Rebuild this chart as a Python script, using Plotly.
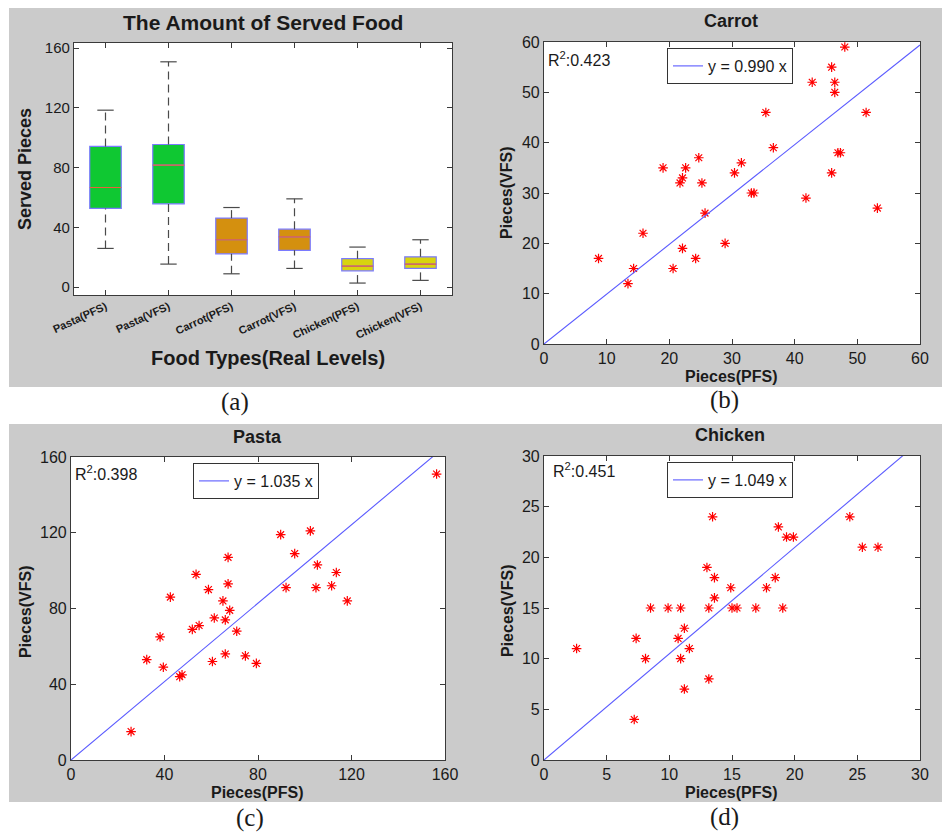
import plotly.graph_objects as go

W, H = 942, 839

# ---------------- data ----------------
box_labels = ["Pasta(PFS)", "Pasta(VFS)", "Carrot(PFS)", "Carrot(VFS)", "Chicken(PFS)", "Chicken(VFS)"]
box_lower = [25.9, 15.4, 8.9, 12.5, 2.7, 4.5]
box_q1 = [52.7, 55.8, 22.3, 24.6, 10.9, 12.5]
box_median = [66.7, 81.7, 31.7, 33.7, 14.1, 15.4]
box_q3 = [94.2, 95.5, 46.2, 38.8, 19.0, 20.3]
box_upper = [118.5, 150.9, 53.3, 59.1, 26.8, 31.7]
box_fill = ["#0fc832", "#0fc832", "#d4900f", "#d4900f", "#d8d40e", "#d8d40e"]

carrot_pfs = [8.7, 13.4, 14.3, 15.8, 19.0, 20.6, 21.7, 22.1, 22.1, 22.6, 24.2, 24.7, 25.2, 25.7, 28.9, 30.4,
              31.5, 33.1, 33.5, 35.4, 36.6, 41.8, 42.8, 45.9, 45.9, 46.4, 46.4, 46.9, 47.3, 48.0, 51.4, 53.2]
carrot_vfs = [17, 12, 15, 22, 35, 15, 32, 33, 19, 35, 17, 37, 32, 26, 20, 34,
              36, 30, 30, 46, 39, 29, 52, 55, 34, 52, 50, 38, 38, 59, 46, 27]

pasta_pfs = [25.7, 32.4, 38.1, 39.5, 42.5, 46.5, 47.5, 51.9, 53.5, 54.8, 58.8, 60.5, 61.3, 65.0, 66.0, 66.0, 67.2,
             67.2, 67.9, 70.9, 74.6, 79.3, 89.7, 92.0, 95.7, 102.4, 104.8, 105.4, 111.5, 113.5, 118.2, 156.4]
pasta_vfs = [15, 53, 65, 49, 86, 44, 45, 69, 98, 71, 90, 52, 75, 84, 74, 56, 93,
             107, 79, 68, 55, 51, 119, 91, 109, 121, 91, 103, 92, 99, 84, 151]

chicken_pfs = [2.6, 7.2, 7.35, 8.1, 8.5, 9.9, 10.7, 10.9, 10.9, 11.2, 11.2, 11.6, 13.0, 13.15, 13.15, 13.45,
               13.6, 13.6, 14.9, 15.0, 15.4, 16.9, 17.75, 18.45, 18.7, 19.05, 19.35, 19.9, 24.4, 25.4, 26.65]
chicken_vfs = [11, 4, 12, 10, 15, 15, 12, 15, 10, 7, 13, 11, 19, 15, 8, 24,
               18, 16, 17, 15, 15, 15, 17, 18, 23, 15, 22, 22, 24, 21, 21]

scatter_titles = ["Carrot", "Pasta", "Chicken"]
scatter_slopes = [0.990, 1.035, 1.049]
scatter_r2 = ["0.423", "0.398", "0.451"]
scatter_max = [60, 160, 30]
scatter_ticks = [[0, 10, 20, 30, 40, 50, 60], [0, 40, 80, 120, 160], [0, 5, 10, 15, 20, 25, 30]]
box_yticks = [0, 40, 80, 120, 160]

# ---------------- helpers ----------------
def px(x):
    return x / W

def py(y):
    return 1 - y / H

FONT = "Liberation Sans, Arial, sans-serif"
SERIF = "Liberation Serif, Times New Roman, serif"
AXCOL = "#3a3a3a"
TXT = "#1a1a1a"

fig = go.Figure()

# ---------------- panel (a): box plot ----------------
positions = list(range(1, len(box_labels) + 1))
BOXW = 0.5
CAPW = 0.26
wx, wy, cx, cy, mx, my = [], [], [], [], [], []
for p, lo, q1, md, q3, hi in zip(positions, box_lower, box_q1, box_median, box_q3, box_upper):
    wx += [p, p, None, p, p, None]
    wy += [q3, hi, None, lo, q1, None]
    cx += [p - CAPW / 2, p + CAPW / 2, None, p - CAPW / 2, p + CAPW / 2, None]
    cy += [hi, hi, None, lo, lo, None]
    mx += [p - BOXW / 2, p + BOXW / 2, None]
    my += [md, md, None]

fig.add_trace(go.Scatter(x=wx, y=wy, mode="lines", line=dict(color="#4a4a4a", width=1.2, dash="8px,5px"),
                         showlegend=False, hoverinfo="skip", xaxis="x", yaxis="y"))
fig.add_trace(go.Scatter(x=cx, y=cy, mode="lines", line=dict(color="#4a4a4a", width=1.2),
                         showlegend=False, hoverinfo="skip", xaxis="x", yaxis="y"))
for i, p in enumerate(positions):
    fig.add_trace(go.Box(
        x=[p], q1=[box_q1[i]], median=[box_median[i]], q3=[box_q3[i]],
        lowerfence=[box_q1[i]], upperfence=[box_q3[i]],
        width=BOXW, fillcolor=box_fill[i], line=dict(color="#7a7aff", width=1.2),
        boxpoints=False, whiskerwidth=0, showlegend=False, name=box_labels[i],
        xaxis="x", yaxis="y"))
fig.add_trace(go.Scatter(x=mx, y=my, mode="lines", line=dict(color="#e8603a", width=1.2),
                         showlegend=False, hoverinfo="skip", xaxis="x", yaxis="y"))

# ---------------- scatter panels ----------------
scatter_data = [(carrot_pfs, carrot_vfs), (pasta_pfs, pasta_vfs), (chicken_pfs, chicken_vfs)]
axis_ids = [("x2", "y2"), ("x3", "y3"), ("x4", "y4")]
legend_ids = ["legend", "legend2", "legend3"]
for k in range(3):
    xs, ys = scatter_data[k]
    xa, ya = axis_ids[k]
    m = scatter_max[k]
    s = scatter_slopes[k]
    fig.add_trace(go.Scatter(x=xs, y=ys, mode="markers",
                             marker=dict(symbol="asterisk-open", size=8, color="red",
                                         line=dict(color="red", width=1.2)),
                             showlegend=False, xaxis=xa, yaxis=ya))
    fig.add_trace(go.Scatter(x=[0, m], y=[0, s * m], mode="lines",
                             line=dict(color="#5a5aff", width=1.1),
                             name="y = %.3f x" % s, showlegend=True, legend=legend_ids[k],
                             xaxis=xa, yaxis=ya))

# ---------------- axes ----------------
def axis_common(**kw):
    d = dict(showline=True, linecolor=AXCOL, linewidth=1.2, mirror="ticks", ticks="inside",
             ticklen=5, tickcolor=AXCOL, showgrid=False, zeroline=False, automargin=False,
             tickfont=dict(family=FONT, size=16, color=TXT))
    d.update(kw)
    return d

# domains (pixel boxes: left, right, top, bottom)
boxes = {
    "a": (74, 452, 43, 295),
    "b": (544, 920, 42, 344),
    "c": (71, 445, 457, 760),
    "d": (544, 920, 456, 760),
}

def dom(key):
    l, r, t, b = boxes[key]
    return [px(l), px(r)], [py(b), py(t)]

xd, yd = dom("a")
fig.update_layout(
    xaxis=axis_common(domain=xd, anchor="y", range=[0.5, 6.5], tickmode="array", tickvals=positions,
                      ticktext=box_labels, tickangle=-25,
                      tickfont=dict(family=FONT, size=11, color=TXT, weight="bold")),
    yaxis=axis_common(domain=yd, anchor="x", range=[-5.3, 163.5], tickmode="array", tickvals=box_yticks,
                      tickfont=dict(family=FONT, size=15, color=TXT)),
)
for k, key in enumerate(["b", "c", "d"]):
    xd, yd = dom(key)
    n = k + 2
    m = scatter_max[k]
    fig.update_layout({
        "xaxis%d" % n: axis_common(domain=xd, anchor="y%d" % n, range=[0, m], tickmode="array",
                                   tickvals=scatter_ticks[k]),
        "yaxis%d" % n: axis_common(domain=yd, anchor="x%d" % n, range=[0, m], tickmode="array",
                                   tickvals=scatter_ticks[k]),
    })

# ---------------- legends ----------------
legend_pos = [(667, 48), (193, 463), (667, 462)]
for k, (lx, ly) in enumerate(legend_pos):
    fig.update_layout({legend_ids[k]: dict(
        x=px(lx), y=py(ly), xanchor="left", yanchor="top", bgcolor="white",
        bordercolor="#333333", borderwidth=1, font=dict(family=FONT, size=16, color=TXT),
        itemwidth=30, tracegroupgap=0)})

# ---------------- gray panel backgrounds + white plot areas ----------------
GRAY = "#cbcbcb"
panels = [(9, 470, 8, 387), (470, 942, 8, 387), (9, 481, 424, 802), (481, 942, 424, 802)]
shapes = []
for (l, r, t, b) in panels:
    shapes.append(dict(type="rect", xref="paper", yref="paper", x0=px(l), x1=px(r), y0=py(b), y1=py(t),
                       fillcolor=GRAY, line=dict(width=0), layer="below"))
for key in ["a", "b", "c", "d"]:
    l, r, t, b = boxes[key]
    shapes.append(dict(type="rect", xref="paper", yref="paper", x0=px(l), x1=px(r), y0=py(b), y1=py(t),
                       fillcolor="white", line=dict(width=0), layer="below"))

# ---------------- text annotations ----------------
ann = []
def add_text(text, x, y, size, bold=True, angle=0, family=FONT, xanchor="center"):
    ann.append(dict(text=("<b>%s</b>" % text) if bold else text, x=px(x), y=py(y), xref="paper", yref="paper",
                    showarrow=False, font=dict(family=family, size=size, color=TXT), textangle=angle,
                    xanchor=xanchor, yanchor="middle"))

add_text("The Amount of Served Food", 263, 23, 21)
add_text("Food Types(Real Levels)", 268, 358, 20)
add_text("Served Pieces", 25, 169, 18, angle=-90)

titles_pos = [(731, 21), (257, 437), (730, 435)]
xlab_pos = [(731, 376), (257, 792), (731, 792)]
ylab_pos = [(507, 193), (25, 612), (507, 611)]
r2_pos = [(546, 59), (73, 473), (551, 470)]
for k in range(3):
    add_text(scatter_titles[k], *titles_pos[k], 18)
    add_text("Pieces(PFS)", *xlab_pos[k], 16)
    add_text("Pieces(VFS)", *ylab_pos[k], 16, angle=-90)
    add_text("R<sup>2</sup>:" + scatter_r2[k], *r2_pos[k], 16, bold=False, xanchor="left")

for cap, (x, y) in zip(["(a)", "(b)", "(c)", "(d)"], [(235, 402), (724, 400), (250, 818), (724, 817)]):
    add_text(cap, x, y, 25, bold=False, family=SERIF)

fig.update_layout(
    width=W, height=H, margin=dict(l=0, r=0, t=0, b=0, pad=0, autoexpand=False),
    paper_bgcolor="white", plot_bgcolor="white",
    shapes=shapes, annotations=ann,
)

fig.write_html("out.html", config={"displayModeBar": False},
               post_script="document.body.style.margin='0px';document.body.style.overflow='hidden';")
